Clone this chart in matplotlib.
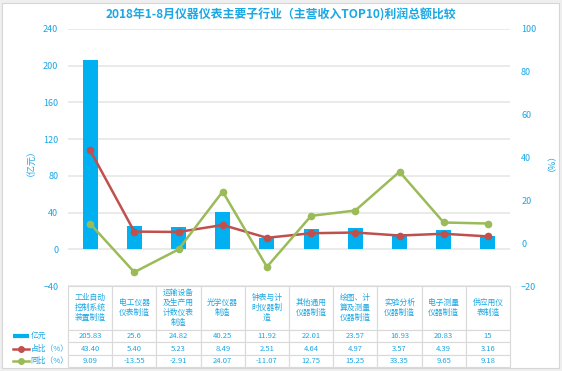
import numpy as np
import matplotlib.pyplot as plt
from matplotlib.lines import Line2D
from matplotlib.patches import Rectangle

plt.rcParams['font.family'] = ['Noto Sans CJK SC', 'DejaVu Sans']

# data
categories = ["工业自动\n控制系统\n装置制造", "电工仪器\n仪表制造", "运输设备\n及生产用\n计数仪表\n制造",
              "光学仪器\n制造", "钟表与计\n时仪器制\n造", "其他通用\n仪器制造",
              "绘图、计\n算及测量\n仪器制造", "实验分析\n仪器制造", "电子测量\n仪器制造", "供应用仪\n表制造"]
profit = [205.83, 25.6, 24.82, 40.25, 11.92, 22.01, 23.57, 16.93, 20.83, 15]
share = [43.40, 5.40, 5.23, 8.49, 2.51, 4.64, 4.97, 3.57, 4.39, 3.16]
yoy = [9.09, -13.55, -2.91, 24.07, -11.07, 12.75, 15.25, 33.35, 9.65, 9.18]
row_names = ["亿元", "占比（%）", "同比（%）"]

blue = '#00b0f0'
red = '#c0504d'
green = '#9bbb59'
txt = '#1aa7e4'
grid_c = '#e8e8e8'

fig = plt.figure(figsize=(5.62, 3.71), dpi=100, facecolor='#efefef')
fig.add_artist(Rectangle((2 / 562, 3 / 371), 557 / 562, 365 / 371, transform=fig.transFigure,
                         facecolor='white', edgecolor='#d6d6d6', lw=0.8, zorder=-10))

AX_W, AX_H = 442, 257
ax = fig.add_axes([68 / 562, 1 - 286 / 371, AX_W / 562, AX_H / 371])
ax.patch.set_alpha(0)
ax2 = ax.twinx()

x = np.arange(len(profit))
ax.bar(x, profit, width=0.34, color=blue, zorder=2)
ax.set_xlim(-0.5, len(profit) - 0.5)
ax.set_ylim(-40, 240)
ax.set_yticks(np.arange(-40, 241, 40))
ax.yaxis.grid(True, color=grid_c, lw=1.3, zorder=0)
ax.set_axisbelow(True)
ax.set_xticks([])
for s in ax.spines.values():
    s.set_visible(False)
ax.tick_params(axis='y', length=0, pad=7, labelsize=6.5, labelcolor=txt)
ax.set_ylabel("（亿元）", color=txt, fontsize=6.5, labelpad=9)

ax2.plot(x, share, color=red, lw=1.8, marker='o', ms=4.5, zorder=3)
ax2.plot(x, yoy, color=green, lw=1.8, marker='o', ms=4.5, zorder=3)
ax2.set_ylim(-20, 100)
ax2.set_yticks(np.arange(-20, 101, 20))
for s in ax2.spines.values():
    s.set_visible(False)
ax2.tick_params(axis='y', length=0, pad=8, labelsize=6.5, labelcolor=txt)
ax2.set_ylabel("（%）", color=txt, fontsize=6.5, labelpad=5)

fig.text(0.5, 1 - 15 / 371, "2018年1-8月仪器仪表主要子行业（主营收入TOP10)利润总额比较",
         ha='center', va='center', fontsize=8.6, fontweight='bold', color=txt)

# data table under the chart; cell sizes in axes fractions
cell_text = [[f"{v:g}" for v in profit],
             [f"{v:.2f}" for v in share],
             [f"{v:.2f}" for v in yoy]]
head_h, row_h = 44 / AX_H, 12.35 / AX_H
tab_h = head_h + 3 * row_h
tab = ax.table(cellText=cell_text, rowLabels=[""] * len(row_names), colLabels=categories,
               cellLoc='center', rowLoc='left',
               bbox=[0, -tab_h, 1, tab_h])
tab.auto_set_font_size(False)
tab.set_fontsize(5.5)
for (r, c), cell in tab.get_celld().items():
    cell.set_edgecolor('#d9d9d9')
    cell.set_linewidth(0.8)
    cell.get_text().set_color(txt)
    cell.set_width(57 / AX_W if c == -1 else 1 / len(profit))
    if r == 0:
        cell.set_height(head_h)
        cell.get_text().set_linespacing(1.35)
        cell.get_text().set_fontsize(5.6)
    else:
        cell.set_height(row_h)

# row labels with legend keys
key_y = [1 - 336 / 371, 1 - 349 / 371, 1 - 361 / 371]
kx0, kx1 = 12.5 / 562, 29 / 562
for name, yk in zip(row_names, key_y):
    fig.text(30.5 / 562, yk, name, ha='left', va='center', fontsize=5.6, color=txt)
fig.add_artist(Line2D([kx0, kx1], [key_y[0]] * 2, transform=fig.transFigure,
                      color=blue, lw=3, solid_capstyle='butt'))
fig.add_artist(Line2D([kx0, kx1], [key_y[1]] * 2, transform=fig.transFigure,
                      color=red, lw=1.8))
fig.add_artist(Line2D([(kx0 + kx1) / 2], [key_y[1]], transform=fig.transFigure,
                      color=red, marker='o', ms=4))
fig.add_artist(Line2D([kx0, kx1], [key_y[2]] * 2, transform=fig.transFigure,
                      color=green, lw=1.8))
fig.add_artist(Line2D([(kx0 + kx1) / 2], [key_y[2]], transform=fig.transFigure,
                      color=green, marker='o', ms=4))

fig.savefig("out.png", dpi=100, facecolor=fig.get_facecolor())
